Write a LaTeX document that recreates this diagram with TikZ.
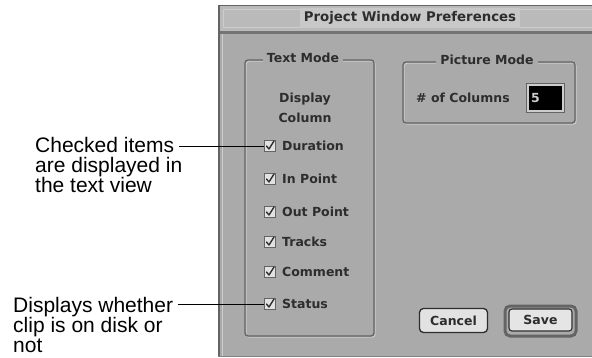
\documentclass[tikz,border=0pt]{standalone}
\usepackage{fontspec}
\setmainfont{Liberation Sans}
\newfontfamily\uifont{DejaVu Sans}
\definecolor{winbg}{RGB}{170,170,170}
\definecolor{titlebg}{RGB}{186,186,186}
\definecolor{titlebox}{RGB}{200,200,200}
\definecolor{edgedark}{RGB}{100,100,100}
\definecolor{edgelight}{RGB}{205,205,205}
\definecolor{uitext}{RGB}{45,45,45}
\definecolor{btnface}{RGB}{226,226,226}
\tikzset{
  uilabel/.style={font=\uifont\bfseries\fontsize{12.5}{14}\selectfont, text=uitext, inner sep=0pt},
  grouplabel/.style={uilabel, fill=winbg, inner xsep=4pt, inner ysep=1pt},
  groupframe/.style={draw=edgedark, line width=1.3pt, rounded corners=3pt},
  grouphl/.style={draw=edgelight, line width=0.9pt, rounded corners=3pt},
  cbox/.style={draw=edgedark, fill=btnface, line width=0.9pt, minimum size=11pt, inner sep=0pt},
  note/.style={font=\fontsize{21}{20}\selectfont, align=left, inner sep=0pt, anchor=north west},
  leader/.style={draw=black, line width=0.9pt},
}
\begin{document}
\begin{tikzpicture}[x=1pt,y=-1pt]
\useasboundingbox (0,0) rectangle (592,357);

% window body and borders
\fill[winbg] (218,5) rectangle (592,357);
\fill[titlebg] (218,5) rectangle (592,31);
\draw[edgelight, line width=1pt] (223,9) rectangle (600,27);
\fill[titlebox] (300,8) rectangle (520,28);
\fill[edgedark!90] (218,30.5) rectangle (592,34);
\draw[edgedark, line width=1.2pt] (218.6,5.6) -- (592,5.6);
\draw[edgedark, line width=2pt] (219,5) -- (219,357);
\draw[edgelight, line width=1pt] (222,34) -- (222,357);
\draw[edgedark!80, line width=1pt] (218,356.5) -- (592,356.5);
\node[uilabel, font=\uifont\bfseries\fontsize{13.3}{15}\selectfont] (title) at (410,18) {Project Window Preferences};

% Text Mode group
\draw[grouphl] (246.2,61.2) rectangle (375.2,337.2);
\draw[groupframe] (245,60) rectangle (374,336);
\node[grouplabel] (tmode) at (303,58) {Text Mode};
\node[uilabel, align=center, font=\uifont\bfseries\fontsize{12.5}{20}\selectfont] (dispcol) at (305,108) {Display\\Column};

% check boxes and their labels
\foreach \nm/\yy/\txt in {Dur/146/Duration, In/179/In Point, Out/212/Out Point, Trk/242/Tracks, Com/272/Comment, Sta/304/Status}{
  \node[cbox] (cb\nm) at (269.5,\yy) {};
  \draw[uitext, line width=1.4pt, line cap=round, line join=round]
    ([shift={(-3,0)}]cb\nm.center) -- ([shift={(-0.5,3)}]cb\nm.center) -- ([shift={(4.5,-5)}]cb\nm.center);
  \node[uilabel, anchor=west] (lb\nm) at (282,\yy) {\txt};
}

% Picture Mode group
\draw[grouphl] (404.2,63.2) rectangle (576.2,124.2);
\draw[groupframe] (403,62) rectangle (575,123);
\node[grouplabel] (pmode) at (487,60) {Picture Mode};
\node[uilabel, anchor=west] (cols) at (416,98) {\# of Columns};
\node[fill=edgelight, draw=edgedark, line width=0.8pt, minimum width=38pt, minimum height=29pt, inner sep=0pt] (fieldframe) at (545.5,98) {};
\node[fill=black, minimum width=33pt, minimum height=24pt, inner sep=0pt] (field) at (545.5,98) {};
\node[uilabel, text=edgelight, anchor=west] (fieldval) at (531,98) {5};

% buttons
\node[draw=uitext, fill=btnface, line width=1.3pt, rounded corners=4pt, minimum width=68pt, minimum height=24pt, inner sep=0pt, uilabel] (cancel) at (453.5,320.5) {Cancel};
\node[draw=edgedark, line width=3pt, rounded corners=5pt, minimum width=71pt, minimum height=30pt, inner sep=0pt] (saveframe) at (540.5,321) {};
\node[draw=uitext, fill=btnface!90!white, line width=1.1pt, rounded corners=3pt, minimum width=63pt, minimum height=22pt, inner sep=0pt, uilabel] (save) at (540.5,320) {Save};

% annotations
\node[note] (ann1) at (35,137) {Checked items\\are displayed in\\the text view};
\node[note] (ann2) at (13,297) {Displays whether\\clip is on disk or\\not};
\draw[leader] ([xshift=-3pt]ann1.east |- cbDur.west) -- (cbDur.west);
\draw[leader] ([xshift=5pt]ann2.east |- cbSta.west) -- (cbSta.west);
\end{tikzpicture}
\end{document}
